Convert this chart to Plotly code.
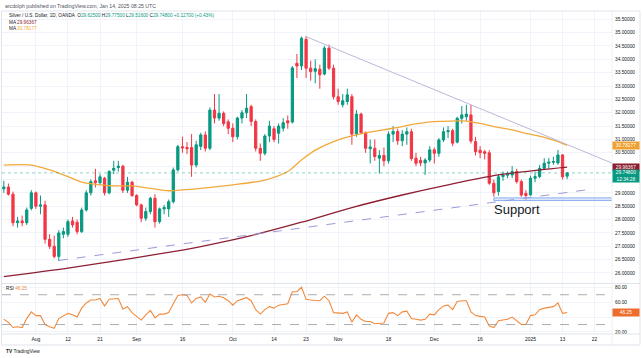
import numpy as np
import pandas as pd
import plotly.graph_objects as go

W, H = 643, 358
GREEN = "#089981"
RED = "#f23645"
ORANGE = "#f2a93b"
MAROON = "#8e1f33"
RSI_C = "#f28a3e"
RSI_BOX = "#ee6c2c"
TEXT = "#131722"
GRID = "#f0f3fa"
FONT = "Liberation Sans, Arial, sans-serif"

# ---------------- data ----------------
all_days = pd.bdate_range("2024-07-23", "2025-01-14")
dates = [d.strftime("%Y-%m-%d") for d in all_days if d.strftime("%m-%d") not in ("12-25", "01-01")]

opens = [29.15, 29.22, 28.95, 27.88, 27.95, 27.88, 28.42,
         29.00, 28.50, 28.55, 27.26, 27.00, 26.62, 27.45, 27.45, 27.95, 27.90, 27.55, 28.36,
         29.00, 29.45, 29.38, 29.55, 29.00, 29.85, 29.95, 30.00, 29.10, 29.40,
         28.90, 28.55, 28.05, 28.30, 28.80, 27.92, 28.40, 28.40, 28.67, 29.86,
         30.73, 30.70, 30.70, 30.04, 30.74, 31.17, 30.67, 32.10, 31.80, 31.98, 31.66,
         31.42, 31.10, 31.80, 32.00, 32.23, 31.67, 30.67, 30.48, 31.13, 31.40, 31.23,
         31.42, 31.70, 31.65, 33.85, 33.75, 34.75, 33.67, 33.55, 33.63, 33.45, 34.42, 33.67,
         32.60, 32.30, 32.42, 32.60, 31.20, 31.95, 31.25, 30.65, 30.67, 30.30, 30.40,
         30.20, 31.20, 31.30, 30.95, 31.20, 31.29, 30.30, 30.22, 30.12, 30.23,
         30.61, 30.48, 30.98, 31.29, 31.33, 30.90, 31.79, 31.85, 31.92, 30.92,
         30.60, 30.54, 30.50, 29.36, 29.05, 29.61, 29.66, 29.67, 29.80, 29.42, 28.98,
         28.92, 29.55, 29.61, 29.92, 30.11, 30.15, 30.12, 30.42, 29.625]
highs = [29.45, 29.35, 29.05, 28.10, 28.15, 28.45, 29.10,
         29.05, 28.90, 28.70, 27.45, 27.40, 27.60, 27.70, 28.00, 28.10, 28.00, 28.45, 29.10,
         29.50, 29.90, 29.70, 29.60, 29.85, 30.20, 30.20, 30.05, 29.60, 29.45,
         28.95, 28.60, 28.45, 28.85, 28.95, 28.45, 28.55, 28.75, 29.95, 30.80,
         31.10, 30.90, 31.20, 30.95, 31.25, 31.30, 32.20, 32.70, 32.70, 32.05, 31.75,
         31.60, 31.85, 32.10, 32.70, 32.30, 31.75, 30.85, 31.20, 31.70, 31.50, 31.60,
         31.80, 31.90, 33.75, 34.20, 34.85, 34.87, 33.95, 34.00, 33.80, 34.50, 34.55, 33.80,
         32.90, 32.70, 32.90, 32.70, 32.10, 32.00, 31.30, 31.00, 31.00, 30.60, 30.70,
         31.30, 31.50, 31.40, 31.35, 31.45, 31.40, 30.50, 30.35, 30.30, 30.75,
         30.70, 31.05, 31.45, 31.50, 31.40, 31.85, 32.25, 32.30, 32.30, 31.10,
         30.75, 30.60, 30.60, 29.50, 29.70, 29.80, 29.80, 30.00, 29.90, 29.50, 29.10,
         29.65, 29.80, 30.05, 30.30, 30.30, 30.35, 30.61, 30.45, 29.775]
lows = [29.00, 28.90, 27.75, 27.70, 27.75, 27.80, 28.35,
        28.40, 28.20, 27.10, 26.90, 26.55, 26.45, 27.30, 27.35, 27.70, 27.45, 27.50, 28.30,
        28.90, 29.20, 29.30, 28.90, 28.95, 29.70, 29.80, 29.00, 29.00, 28.85,
        28.50, 27.90, 27.95, 28.20, 27.70, 27.85, 28.20, 28.10, 28.60, 29.80,
        30.50, 30.45, 29.60, 29.95, 30.60, 30.55, 30.60, 31.60, 31.70, 31.50, 31.20,
        30.90, 31.00, 31.60, 31.80, 31.50, 30.55, 30.20, 30.40, 30.90, 30.90, 30.85,
        31.30, 31.40, 31.60, 33.30, 33.60, 33.30, 33.20, 33.10, 32.90, 33.40, 33.60, 32.50,
        32.30, 32.20, 32.30, 30.80, 31.10, 31.20, 30.50, 30.10, 30.20, 29.72, 30.00,
        30.10, 30.90, 30.80, 30.75, 30.80, 30.20, 30.00, 30.00, 29.67, 30.15,
        30.10, 30.35, 30.90, 31.05, 30.75, 30.85, 31.60, 31.70, 30.85, 30.40,
        30.30, 30.25, 29.30, 28.85, 28.90, 29.45, 29.55, 29.55, 29.35, 28.85, 28.75,
        28.90, 29.40, 29.55, 29.85, 29.90, 30.05, 30.05, 29.50, 29.516]
closes = [29.22, 28.95, 27.88, 27.95, 27.88, 28.36, 29.00,
          28.50, 28.55, 27.26, 27.00, 26.62, 27.50, 27.55, 27.92, 27.80, 27.55, 28.36, 29.00,
          29.42, 29.38, 29.60, 29.00, 29.80, 29.92, 30.00, 29.10, 29.40, 28.90,
          28.55, 28.05, 28.30, 28.80, 27.92, 28.40, 28.45, 28.67, 29.86, 30.73,
          30.68, 30.65, 30.04, 30.80, 31.17, 30.67, 32.10, 31.80, 31.98, 31.60, 31.42,
          31.10, 31.80, 32.00, 32.17, 31.67, 30.67, 30.48, 31.13, 31.50, 31.00, 31.50,
          31.63, 31.62, 33.68, 33.75, 34.79, 33.67, 33.54, 33.65, 33.42, 34.42, 33.67, 32.60,
          32.42, 32.45, 32.67, 31.20, 31.95, 31.25, 30.67, 30.72, 30.36, 30.40, 30.20,
          31.20, 31.30, 30.95, 31.20, 31.29, 30.29, 30.11, 30.12, 30.23, 30.61,
          30.48, 30.98, 31.29, 31.33, 30.86, 31.79, 31.92, 31.95, 30.94, 30.54,
          30.50, 30.48, 29.36, 29.00, 29.60, 29.67, 29.70, 29.80, 29.42, 28.92, 28.90,
          29.55, 29.61, 29.92, 30.11, 30.15, 30.17, 30.42, 29.60, 29.748]

rsi_vals = [37, 33, 26, 27, 26, 38, 47,
            42, 42, 30, 27, 25, 38, 41, 45, 43, 40, 52, 59,
            63, 63, 65, 55, 64, 65, 65, 51, 54, 46,
            41, 36, 43, 49, 39, 44, 44, 46, 58, 69,
            70, 69, 59, 65, 67, 60, 71, 67, 68, 66, 62,
            56, 62, 64, 66, 62, 50, 44, 50, 54, 52, 56,
            57, 58, 74, 74, 80, 64, 63, 63, 62, 68, 62, 46,
            45, 45, 47, 33, 43, 37, 34, 34, 31, 31, 32,
            45, 46, 42, 47, 48, 38, 37, 36, 37, 44,
            43, 50, 55, 56, 50, 61, 62, 62, 47, 42,
            41, 40, 28, 26, 35, 36, 37, 40, 35, 30, 30,
            42, 43, 50, 52, 53, 54, 59, 45, 46.25]

ma50_dates = ["2024-07-23", "2024-07-31", "2024-08-06", "2024-08-12", "2024-08-15", "2024-08-21",
              "2024-08-27", "2024-08-30", "2024-09-05", "2024-09-11", "2024-09-16", "2024-09-20",
              "2024-10-01", "2024-10-10", "2024-10-17", "2024-10-22", "2024-10-25", "2024-10-31",
              "2024-11-06", "2024-11-11", "2024-11-19", "2024-11-26", "2024-12-02", "2024-12-06",
              "2024-12-11", "2024-12-16", "2024-12-19", "2024-12-26", "2024-12-31", "2025-01-07",
              "2025-01-10", "2025-01-14"]
ma50_vals = [30.04, 30.04, 29.86, 29.61, 29.40, 29.30, 29.26, 29.26, 29.17, 29.08, 29.11, 29.17,
             29.30, 29.48, 29.80, 30.23, 30.60, 30.92, 31.13, 31.25, 31.42, 31.58, 31.67, 31.69,
             31.69, 31.60, 31.48, 31.36, 31.23, 31.08, 30.92, 30.78177]
ma200_dates = ["2024-07-23", "2024-08-12", "2024-08-30", "2024-09-16", "2024-09-20", "2024-10-07",
               "2024-10-22", "2024-11-06", "2024-11-21", "2024-12-05", "2024-12-20", "2025-01-06",
               "2025-01-14"]
ma200_vals = [25.86, 26.18, 26.55, 26.86, 26.99, 27.40, 27.90, 28.45, 28.92, 29.30, 29.67, 29.86, 29.96367]

trend_down = (["2024-10-23", "2025-01-28"], [34.85, 30.10])
trend_up = (["2024-08-08", "2025-01-21"], [26.47, 29.13])
support_zone = (["2024-12-19", "2025-01-28"], [28.72, 28.81])

tick_dates = ["2024-08-01", "2024-08-12", "2024-08-21", "2024-09-02", "2024-09-16", "2024-10-01",
              "2024-10-14", "2024-10-23", "2024-11-01", "2024-11-18", "2024-12-02", "2024-12-16",
              "2025-01-02", "2025-01-13", "2025-01-22"]
tick_text = ["Aug", "12", "21", "Sep", "16", "Oct", "14", "23", "Nov", "18", "Dec", "16", "2025", "13", "22"]

price_ticks = [26 + 0.5 * k for k in range(20)]
price_hidden = [29.5, 30.0]          # labels covered by the value boxes
rsi_ticks = [20, 40, 60, 80]
rsi_hidden = [40]
rsi_levels = [70, 30]

# ---------------- helpers ----------------
pos0 = dates.index("2024-08-01")


def bar_x(d):
    if d in dates:
        return dates.index(d) - pos0
    extra = int(np.busday_count(dates[-1], d))
    return len(dates) - 1 - pos0 + extra


xs = [i - pos0 for i in range(len(dates))]

L, R, T, B = 2, 31, 11, 24
PW, PH = W - L - R, H - T - B


def px(xp):
    return (xp - L) / PW


def py(yp):
    return (H - B - yp) / PH


XR = [-7.4, 125.8]
YR = [25.625, 35.81]
RR = [17.3, 84.4]

fig = go.Figure()
fig.add_trace(go.Candlestick(
    x=xs, open=opens, high=highs, low=lows, close=closes,
    increasing=dict(line=dict(color=GREEN, width=1), fillcolor=GREEN),
    decreasing=dict(line=dict(color=RED, width=1), fillcolor=RED),
    whiskerwidth=0, showlegend=False, hoverinfo="skip", xaxis="x", yaxis="y"))

fig.add_trace(go.Scatter(x=[bar_x(d) for d in ma200_dates], y=ma200_vals, mode="lines",
                         line=dict(color=MAROON, width=1.3, shape="spline", smoothing=0.8),
                         showlegend=False, hoverinfo="skip", xaxis="x", yaxis="y"))
fig.add_trace(go.Scatter(x=[bar_x(d) for d in ma50_dates], y=ma50_vals, mode="lines",
                         line=dict(color=ORANGE, width=1.3, shape="spline", smoothing=0.8),
                         showlegend=False, hoverinfo="skip", xaxis="x", yaxis="y"))
fig.add_trace(go.Scatter(x=[bar_x(d) for d in trend_down[0]], y=trend_down[1], mode="lines",
                         line=dict(color="#bdb8d8", width=1),
                         showlegend=False, hoverinfo="skip", xaxis="x", yaxis="y"))
fig.add_trace(go.Scatter(x=[bar_x(d) for d in trend_up[0]], y=trend_up[1], mode="lines",
                         line=dict(color="#9c9ad8", width=1, dash="dash"),
                         showlegend=False, hoverinfo="skip", xaxis="x", yaxis="y"))

fig.add_trace(go.Scatter(x=xs, y=rsi_vals, mode="lines", line=dict(color=RSI_C, width=1.1),
                         showlegend=False, hoverinfo="skip", xaxis="x2", yaxis="y2"))

tickvals = [bar_x(d) for d in tick_dates]

shapes = []
shapes.append(dict(type="rect", xref="x", yref="y",
                   x0=bar_x(support_zone[0][0]), x1=bar_x(support_zone[0][1]),
                   y0=support_zone[1][0], y1=support_zone[1][1],
                   line=dict(color="#7ea6ec", width=1), fillcolor="rgba(126,166,236,0.15)"))
shapes.append(dict(type="line", xref="paper", yref="y", x0=0, x1=1, y0=closes[-1], y1=closes[-1],
                   line=dict(color="rgba(8,153,129,0.45)", width=1, dash="dot")))
for lv in rsi_levels:
    shapes.append(dict(type="line", xref="paper", yref="y2", x0=0, x1=1, y0=lv, y1=lv,
                       line=dict(color="#9598a1", width=0.8, dash="dash")))
shapes.append(dict(type="line", xref="paper", yref="paper", x0=px(2), x1=px(640), y0=py(283.5), y1=py(283.5),
                   line=dict(color="#e0e3eb", width=1)))
shapes.append(dict(type="line", xref="paper", yref="paper", x0=px(2), x1=px(640), y0=py(334), y1=py(334),
                   line=dict(color="#e0e3eb", width=1)))
shapes.append(dict(type="line", xref="paper", yref="paper", x0=1, x1=1, y0=py(11), y1=py(345),
                   line=dict(color="#eef0f4", width=1)))
shapes.append(dict(type="rect", xref="paper", yref="paper", x0=px(1.5), x1=px(640), y0=py(11), y1=py(345),
                   line=dict(color="#e0e3eb", width=1)))

ann = []


def text(xp, yp, t, size=5, color=TEXT, xanchor="left"):
    ann.append(dict(xref="paper", yref="paper", x=px(xp), y=py(yp), text=t, showarrow=False,
                    xanchor=xanchor, yanchor="middle", font=dict(size=size, color=color, family=FONT)))


text(2.5, 5.7, "arcdolph published on TradingView.com, Jan 14, 2025 08:25 UTC", 5.2, "#50535e")
chg = 0.127
leg = (f"<span style='color:{TEXT}'>Silver / U.S. Dollar, 1D, OANDA</span>  "
       f"<span style='color:{TEXT}'>O</span><span style='color:{GREEN}'>{opens[-1]:.5f}</span> "
       f"<span style='color:{TEXT}'>H</span><span style='color:{GREEN}'>{highs[-1]:.5f}</span> "
       f"<span style='color:{TEXT}'>L</span><span style='color:{GREEN}'>{lows[-1]:.5f}</span> "
       f"<span style='color:{TEXT}'>C</span><span style='color:{GREEN}'>{closes[-1]:.5f}</span> "
       f"<span style='color:{GREEN}'>+{chg:.5f} (+0.43%)</span>")
text(6.5, 15.7, leg, 4.7)
text(6.5, 22.5, f"MA <span style='color:{MAROON}'>{ma200_vals[-1]:.5f}</span>", 4.7)
text(6.5, 29.0, f"MA <span style='color:{ORANGE}'>{ma50_vals[-1]:.5f}</span>", 4.7)
text(3.5, 288.5, f"RSI <span style='color:{RSI_C}'>{rsi_vals[-1]:.2f}</span>", 4.7)
text(3.5, 351.5, "<b>TV</b> TradingView", 4.8, TEXT)

ann.append(dict(xref="x", yref="y", x=105.1, y=28.36, text="Support", showarrow=False,
                font=dict(size=13, color=TEXT, family=FONT), xanchor="center", yanchor="middle"))


def box(yref, yval, t, bg, h=7, yanchor="middle", yshift=0):
    ann.append(dict(xref="paper", yref=yref, x=1, y=yval, text=t, showarrow=False, xanchor="left",
                    yanchor=yanchor, yshift=yshift, bgcolor=bg, width=26, height=h, borderpad=0,
                    font=dict(size=4.8, color="white", family=FONT), align="center"))


box("y", ma50_vals[-1], f"{ma50_vals[-1]:.5f}", "#f0a030")
box("y", ma200_vals[-1], f"{ma200_vals[-1]:.5f}", "#8c1c2f")
box("y", closes[-1], f"{closes[-1]:.5f}<br>12:34:28", GREEN, h=12, yanchor="top", yshift=4)
box("y2", rsi_vals[-1], f"{rsi_vals[-1]:.2f}", RSI_BOX)

price_text = ["" if v in price_hidden else f"{v:.5f}" for v in price_ticks]
rsi_text = ["" if v in rsi_hidden else f"{v:.2f}" for v in rsi_ticks]

fig.update_layout(
    width=W, height=H, margin=dict(l=L, r=R, t=T, b=B, autoexpand=False),
    paper_bgcolor="white", plot_bgcolor="white",
    font=dict(family=FONT, size=5, color=TEXT),
    showlegend=False, shapes=shapes, annotations=ann,
    xaxis=dict(domain=[0, 1], range=XR, anchor="y", showticklabels=False, tickvals=tickvals,
               showgrid=True, gridcolor=GRID, gridwidth=1, zeroline=False, showline=False,
               rangeslider=dict(visible=False), fixedrange=True),
    yaxis=dict(domain=[py(283), 1], range=YR, side="right", anchor="x", tickvals=price_ticks,
               ticktext=price_text, showgrid=True, gridcolor=GRID, zeroline=False, showline=False,
               ticks="", ticklabelstandoff=2, tickfont=dict(size=4.8, color=TEXT), automargin=False),
    xaxis2=dict(domain=[0, 1], range=XR, anchor="y2", tickvals=tickvals, ticktext=tick_text,
                showgrid=True, gridcolor=GRID, zeroline=False, showline=False, ticks="",
                tickfont=dict(size=5, color=TEXT), ticklabelstandoff=1, automargin=False),
    yaxis2=dict(domain=[0, py(284)], range=RR, side="right", anchor="x2", tickvals=rsi_ticks,
                ticktext=rsi_text, showgrid=True, gridcolor=GRID,
                zeroline=False, showline=False, ticks="", ticklabelstandoff=2,
                tickfont=dict(size=4.8, color=TEXT), automargin=False),
)

fig.write_html("out.html", config={"displayModeBar": False},
               post_script="document.body.style.margin='0';document.body.style.overflow='hidden';")
